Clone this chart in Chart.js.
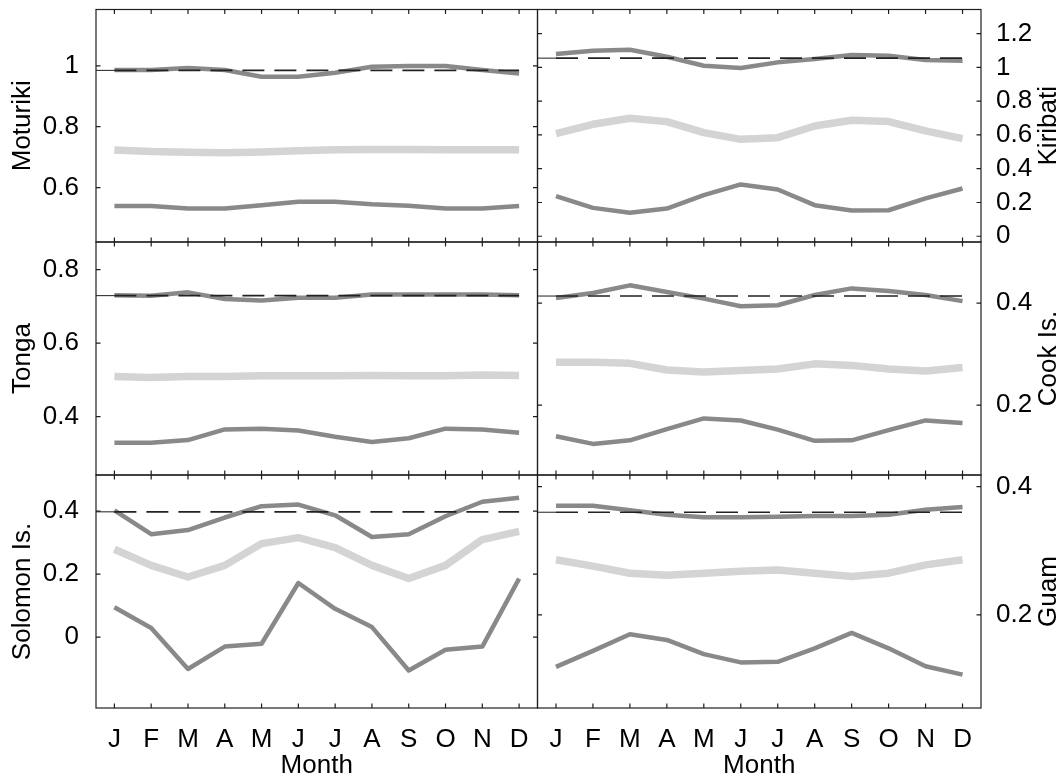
<!DOCTYPE html>
<html>
<head>
<meta charset="utf-8">
<script src="https://cdn.jsdelivr.net/npm/chart.js@4.4.1/dist/chart.umd.min.js"></script>
<style>
  body { margin: 0; background: #fff; width: 1063px; height: 776px; overflow: hidden; position: relative; }
  canvas { position: absolute; }
</style>
</head>
<body>
<canvas id="c0"></canvas>
<canvas id="c1"></canvas>
<canvas id="c2"></canvas>
<canvas id="c3"></canvas>
<canvas id="c4"></canvas>
<canvas id="c5"></canvas>
<script>
// month labels
const months = ['J', 'F', 'M', 'A', 'M', 'J', 'J', 'A', 'S', 'O', 'N', 'D'];

// Moturiki
const moturikiHigh = [0.986, 0.986, 0.993, 0.986, 0.964, 0.964, 0.977, 0.997, 0.999, 0.999, 0.986, 0.975];
const moturikiMid  = [0.723, 0.718, 0.716, 0.714, 0.717, 0.721, 0.724, 0.725, 0.725, 0.724, 0.724, 0.724];
const moturikiLow  = [0.539, 0.539, 0.531, 0.531, 0.542, 0.553, 0.553, 0.545, 0.540, 0.531, 0.531, 0.539];
const moturikiRef = 0.985;
const moturikiRange = [0.421, 1.185];
const moturikiTicks = [0.6, 0.8, 1];

// Kiribati
const kiribatiHigh = [1.079, 1.099, 1.105, 1.063, 1.010, 0.996, 1.030, 1.050, 1.073, 1.069, 1.044, 1.040];
const kiribatiMid  = [0.608, 0.663, 0.699, 0.679, 0.614, 0.574, 0.584, 0.653, 0.687, 0.679, 0.624, 0.578];
const kiribatiLow  = [0.238, 0.168, 0.139, 0.164, 0.244, 0.307, 0.277, 0.184, 0.152, 0.154, 0.224, 0.283];
const kiribatiRef = 1.055;
const kiribatiRange = [-0.034, 1.343];
const kiribatiTicks = [0, 0.2, 0.4, 0.6, 0.8, 1, 1.2];

// Tonga
const tongaHigh = [0.730, 0.729, 0.738, 0.720, 0.716, 0.723, 0.723, 0.732, 0.732, 0.732, 0.732, 0.730];
const tongaMid  = [0.509, 0.506, 0.509, 0.509, 0.511, 0.511, 0.511, 0.512, 0.511, 0.511, 0.513, 0.512];
const tongaLow  = [0.329, 0.329, 0.336, 0.365, 0.367, 0.362, 0.345, 0.331, 0.341, 0.367, 0.365, 0.356];
const tongaRef = 0.729;
const tongaRange = [0.241, 0.875];
const tongaTicks = [0.4, 0.6, 0.8];

// Cook Is.
const cookHigh = [0.410, 0.420, 0.435, 0.422, 0.409, 0.394, 0.396, 0.416, 0.429, 0.424, 0.416, 0.404];
const cookMid  = [0.284, 0.284, 0.282, 0.269, 0.265, 0.268, 0.271, 0.281, 0.278, 0.271, 0.267, 0.274];
const cookLow  = [0.139, 0.124, 0.131, 0.153, 0.174, 0.170, 0.152, 0.130, 0.131, 0.151, 0.170, 0.165];
const cookRef = 0.414;
const cookRange = [0.063, 0.52];
const cookTicks = [0.2, 0.4];

// Solomon Is.
const solomonHigh = [0.403, 0.327, 0.340, 0.380, 0.416, 0.421, 0.387, 0.318, 0.327, 0.384, 0.430, 0.443];
const solomonMid  = [0.279, 0.228, 0.191, 0.228, 0.297, 0.316, 0.284, 0.228, 0.186, 0.228, 0.310, 0.336];
const solomonLow  = [0.095, 0.029, -0.101, -0.030, -0.021, 0.172, 0.090, 0.032, -0.106, -0.040, -0.030, 0.186];
const solomonRef = 0.398;
const solomonRange = [-0.225, 0.515];
const solomonTicks = [0, 0.2, 0.4];

// Guam
const guamHigh = [0.370, 0.370, 0.363, 0.356, 0.352, 0.352, 0.353, 0.354, 0.354, 0.356, 0.364, 0.368];
const guamMid  = [0.286, 0.276, 0.265, 0.262, 0.265, 0.268, 0.270, 0.265, 0.260, 0.265, 0.278, 0.286];
const guamLow  = [0.119, 0.144, 0.170, 0.161, 0.139, 0.126, 0.127, 0.148, 0.172, 0.148, 0.120, 0.107];
const guamRef = 0.360;
const guamRange = [0.055, 0.418];
const guamTicks = [0.2, 0.4];

const FONT = '"Liberation Sans", Arial, Helvetica, sans-serif';
const FONT_SIZE = 26;
const DARK = '#898989';
const LIGHT = '#d4d4d4';

// canvas placement for the two columns and three rows
const cols = [
    { left: 0, width: 540, padL: 0, padR: 2.5, axis: 'left', axisW: 96 },
    { left: 535, width: 528, padL: 2.5, padR: 0, axis: 'right', axisW: 82 }
];
const rows = [
    { top: 0, height: 245, padT: 9.5, padB: 3, bottom: false },
    { top: 239, height: 239, padT: 3, padB: 3, bottom: false },
    { top: 472, height: 304, padT: 3, padB: 0, bottom: true }
];

const panels = [
    { name: 'Moturiki', col: 0, row: 0, high: moturikiHigh, mid: moturikiMid, low: moturikiLow, ref: moturikiRef, range: moturikiRange, ticks: moturikiTicks },
    { name: 'Kiribati', col: 1, row: 0, high: kiribatiHigh, mid: kiribatiMid, low: kiribatiLow, ref: kiribatiRef, range: kiribatiRange, ticks: kiribatiTicks },
    { name: 'Tonga', col: 0, row: 1, high: tongaHigh, mid: tongaMid, low: tongaLow, ref: tongaRef, range: tongaRange, ticks: tongaTicks },
    { name: 'Cook Is.', col: 1, row: 1, high: cookHigh, mid: cookMid, low: cookLow, ref: cookRef, range: cookRange, ticks: cookTicks },
    { name: 'Solomon Is.', col: 0, row: 2, high: solomonHigh, mid: solomonMid, low: solomonLow, ref: solomonRef, range: solomonRange, ticks: solomonTicks },
    { name: 'Guam', col: 1, row: 2, high: guamHigh, mid: guamMid, low: guamLow, ref: guamRef, range: guamRange, ticks: guamTicks }
];

const TICK = 4.5;

// matlab style box, inward ticks and axis titles
const boxPlugin = {
    id: 'box',
    afterDatasetsDraw(chart, args, opts) {
        const ctx = chart.ctx;
        const a = chart.chartArea;
        const x = chart.scales.x, y = chart.scales.y;
        ctx.save();
        ctx.strokeStyle = '#1e1e1e';
        ctx.lineWidth = 1.2;
        ctx.strokeRect(a.left, a.top, a.right - a.left, a.bottom - a.top);
        ctx.beginPath();
        x.ticks.forEach(t => {
            const px = x.getPixelForValue(t.value);
            ctx.moveTo(px, a.bottom); ctx.lineTo(px, a.bottom - TICK);
            ctx.moveTo(px, a.top); ctx.lineTo(px, a.top + TICK);
        });
        y.ticks.forEach(t => {
            const py = y.getPixelForValue(t.value);
            ctx.moveTo(a.left, py); ctx.lineTo(a.left + TICK, py);
            ctx.moveTo(a.right, py); ctx.lineTo(a.right - TICK, py);
        });
        ctx.stroke();

        ctx.fillStyle = '#000';
        ctx.font = FONT_SIZE + 'px ' + FONT;
        ctx.textAlign = 'center';
        ctx.textBaseline = 'middle';
        const cy = (a.top + a.bottom) / 2;
        const tx = opts.side === 'left' ? a.left - 73 : a.right + 68;
        ctx.save();
        ctx.translate(tx, cy);
        ctx.rotate(-Math.PI / 2);
        ctx.fillText(opts.title, 0, 0);
        ctx.restore();
        if (opts.month) {
            ctx.fillText('Month', (a.left + a.right) / 2, a.bottom + 58);
        }
        ctx.restore();
    }
};

function points(vals) {
    return vals.map((v, i) => ({ x: i + 1, y: v }));
}

panels.forEach((p, idx) => {
    const c = cols[p.col], r = rows[p.row];
    const canvas = document.getElementById('c' + idx);
    canvas.width = c.width;
    canvas.height = r.height;
    canvas.style.left = c.left + 'px';
    canvas.style.top = r.top + 'px';

    new Chart(canvas, {
        type: 'line',
        data: {
            datasets: [
                { data: [{ x: 0.5, y: p.ref }, { x: 1, y: p.ref }], borderColor: '#1e1e1e', borderWidth: 1, order: 0 },
                { data: points(p.high.map(() => p.ref)), borderColor: '#222', borderWidth: 1.6, borderDash: [22, 10], order: 1 },
                { data: points(p.high), borderColor: DARK, borderWidth: 4.5, order: 2 },
                { data: points(p.mid), borderColor: LIGHT, borderWidth: 7.5, order: 3 },
                { data: points(p.low), borderColor: DARK, borderWidth: 4.5, order: 4 }
            ]
        },
        options: {
            responsive: false,
            animation: false,
            devicePixelRatio: 1,
            layout: { padding: { left: c.padL, right: c.padR, top: r.padT, bottom: r.padB } },
            elements: {
                point: { radius: 0 },
                line: { tension: 0, borderJoinStyle: 'round', borderCapStyle: 'butt', fill: false }
            },
            plugins: {
                legend: { display: false },
                tooltip: { enabled: false },
                box: { title: p.name, side: c.axis, month: r.bottom }
            },
            scales: {
                x: {
                    type: 'linear',
                    display: r.bottom,
                    min: 0.5,
                    max: 12.5,
                    grid: { display: false },
                    border: { display: false },
                    afterBuildTicks: s => { s.ticks = months.map((m, i) => ({ value: i + 1 })); },
                    afterFit: s => {
                        s.height = r.bottom ? 68 : 0;
                        s.paddingLeft = 0; s.paddingRight = 0;
                    },
                    ticks: {
                        padding: 8,
                        color: '#000',
                        font: { size: FONT_SIZE, family: FONT },
                        maxRotation: 0,
                        autoSkip: false,
                        callback: v => months[v - 1]
                    }
                },
                y: {
                    type: 'linear',
                    position: c.axis,
                    min: p.range[0],
                    max: p.range[1],
                    grid: { display: false },
                    border: { display: false },
                    afterBuildTicks: s => { s.ticks = p.ticks.map(v => ({ value: v })); },
                    afterFit: s => {
                        s.width = c.axisW;
                        s.paddingTop = 0; s.paddingBottom = 0;
                    },
                    ticks: {
                        padding: c.axis === 'left' ? 9 : 7,
                        color: '#000',
                        font: { size: FONT_SIZE, family: FONT },
                        callback: v => String(v)
                    }
                }
            }
        },
        plugins: [boxPlugin]
    });
});
</script>
</body>
</html>
